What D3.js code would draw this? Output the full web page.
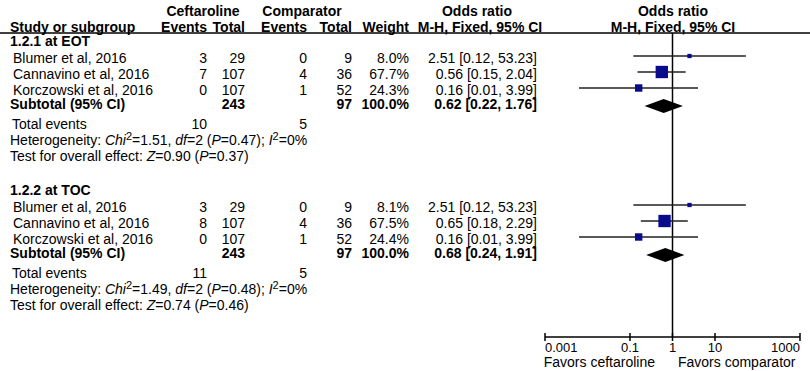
<!DOCTYPE html>
<html>
<head>
<meta charset="utf-8">
<script src="https://cdn.jsdelivr.net/npm/d3@7"></script>
<style>
  body { margin: 0; background: #fff; }
  svg text { font-family: "Liberation Sans", Arial, sans-serif; fill: #000; }
</style>
</head>
<body>
<div id="chart"></div>
<script>
(function () {
    // data
    const studies = ["Blumer et al, 2016", "Cannavino et al, 2016", "Korczowski et al, 2016"];

    const eotCeftEvents = [3, 7, 0];
    const eotCeftTotal = [29, 107, 107];
    const eotCompEvents = [0, 4, 1];
    const eotCompTotal = [9, 36, 52];
    const eotWeight = [8.0, 67.7, 24.3];
    const eotOR = [2.51, 0.56, 0.16];
    const eotLow = [0.12, 0.15, 0.0063];
    const eotHigh = [53.23, 2.04, 3.99];

    const tocCeftEvents = [3, 8, 0];
    const tocCeftTotal = [29, 107, 107];
    const tocCompEvents = [0, 4, 1];
    const tocCompTotal = [9, 36, 52];
    const tocWeight = [8.1, 67.5, 24.4];
    const tocOR = [2.51, 0.65, 0.16];
    const tocLow = [0.12, 0.18, 0.0063];
    const tocHigh = [53.23, 2.29, 3.99];

    const subgroupNames = ["1.2.1 at EOT", "1.2.2 at TOC"];
    const subCeftTotal = [243, 243];
    const subCompTotal = [97, 97];
    const subCeftEvents = [10, 11];
    const subCompEvents = [5, 5];
    const subOR = [0.62, 0.68];
    const subLow = [0.22, 0.24];
    const subHigh = [1.76, 1.91];
    const hetChi = ["1.51", "1.49"];
    const hetDf = ["2", "2"];
    const hetP = ["0.47", "0.48"];
    const hetI = ["0", "0"];
    const zVal = ["0.90", "0.74"];
    const zP = ["0.37", "0.46"];

    const axisTicks = [0.001, 0.1, 1, 10, 1000];
    const axisTickLabels = ["0.001", "0.1", "1", "10", "1000"];

    const groups = [
        { ce: eotCeftEvents, ct: eotCeftTotal, pe: eotCompEvents, pt: eotCompTotal, w: eotWeight, or: eotOR, lo: eotLow, hi: eotHigh },
        { ce: tocCeftEvents, ct: tocCeftTotal, pe: tocCompEvents, pt: tocCompTotal, w: tocWeight, or: tocOR, lo: tocLow, hi: tocHigh }
    ];

    // layout
    const W = 810, H = 371;
    const fs = 14;
    const colCeftEv = 207, colCeftTot = 245, colCompEv = 307, colCompTot = 352, colWeight = 409, colOR = 537;
    const plotCenter = 673;
    const groupTop = [41, 190];
    const rowStep = 16;
    const axisY = 337;
    const headerLineY = 33;

    const x = d3.scaleLog().domain([0.001, 1000]).range([545, 800]);
    const boxSize = d3.scaleSqrt().domain([0, 100]).range([0, 15]);

    const svg = d3.select("#chart").append("svg")
        .attr("width", W).attr("height", H);

    function txt(xp, yc, s, anchor, bold) {
        return svg.append("text")
            .attr("x", xp).attr("y", yc + 5)
            .attr("text-anchor", anchor || "start")
            .style("font-size", fs + "px")
            .style("font-weight", bold ? "bold" : "normal")
            .text(s);
    }
    const fmtCI = (o, l, h) => `${o.toFixed(2)} [${l.toFixed(2)}, ${h.toFixed(2)}]`;

    // headers
    txt(203, 11, "Ceftaroline", "middle", true);
    txt(302, 11, "Comparator", "middle", true);
    txt(477, 11, "Odds ratio", "middle", true);
    txt(plotCenter, 11, "Odds ratio", "middle", true);
    txt(10, 27, "Study or subgroup", "start", true);
    txt(colCeftEv, 27, "Events", "end", true);
    txt(colCeftTot, 27, "Total", "end", true);
    txt(colCompEv, 27, "Events", "end", true);
    txt(colCompTot, 27, "Total", "end", true);
    txt(colWeight, 27, "Weight", "end", true);
    txt(480, 27, "M-H, Fixed, 95% CI", "middle", true);
    txt(plotCenter, 27, "M-H, Fixed, 95% CI", "middle", true);

    svg.append("line")
        .attr("x1", 0).attr("x2", W)
        .attr("y1", headerLineY).attr("y2", headerLineY)
        .attr("stroke", "#000").attr("stroke-width", 1.5);

    // null line
    svg.append("line")
        .attr("x1", x(1)).attr("x2", x(1))
        .attr("y1", headerLineY).attr("y2", axisY)
        .attr("stroke", "#000").attr("stroke-width", 1.5);

    groups.forEach((g, gi) => {
        const y0 = groupTop[gi];
        txt(10, y0, subgroupNames[gi], "start", true);

        studies.forEach((s, i) => {
            const yc = y0 + rowStep * (i + 1) + 1;
            txt(13, yc, s);
            txt(colCeftEv, yc, g.ce[i], "end");
            txt(colCeftTot, yc, g.ct[i], "end");
            txt(colCompEv, yc, g.pe[i], "end");
            txt(colCompTot, yc, g.pt[i], "end");
            txt(colWeight, yc, g.w[i].toFixed(1) + "%", "end");
            txt(colOR, yc, fmtCI(g.or[i], g.lo[i], g.hi[i]), "end");

            const ym = yc - 2;
            svg.append("line")
                .attr("x1", x(g.lo[i])).attr("x2", x(g.hi[i]))
                .attr("y1", ym).attr("y2", ym)
                .attr("stroke", "#222").attr("stroke-width", 1.5);
            const b = boxSize(g.w[i]);
            svg.append("rect")
                .attr("x", x(g.or[i]) - b / 2).attr("y", ym - b / 2)
                .attr("width", b).attr("height", b)
                .attr("fill", "#0a0a8c");
        });

        const ys = y0 + rowStep * 4 - 1;
        txt(10, ys, "Subtotal (95% CI)", "start", true);
        txt(colCeftTot, ys, subCeftTotal[gi], "end", true);
        txt(colCompTot, ys, subCompTotal[gi], "end", true);
        txt(colWeight, ys, "100.0%", "end", true);
        txt(colOR, ys, fmtCI(subOR[gi], subLow[gi], subHigh[gi]), "end", true);

        const yd = ys + 2;
        const dh = 7;
        svg.append("path")
            .attr("d", `M${x(subLow[gi])},${yd} L${x(subOR[gi])},${yd - dh} L${x(subHigh[gi])},${yd} L${x(subOR[gi])},${yd + dh} Z`)
            .attr("fill", "#000");

        const yt = ys + 20;
        txt(12, yt, "Total events");
        txt(colCeftEv, yt, subCeftEvents[gi], "end");
        txt(colCompEv, yt, subCompEvents[gi], "end");

        const yh = yt + 16;
        const het = svg.append("text")
            .attr("x", 10).attr("y", yh + 5)
            .style("font-size", fs + "px");
        het.append("tspan").text("Heterogeneity: ");
        het.append("tspan").style("font-style", "italic").text("Chi");
        het.append("tspan").attr("dy", -5).style("font-size", "11px").text("2");
        het.append("tspan").attr("dy", 5).text(`=${hetChi[gi]}, `);
        het.append("tspan").style("font-style", "italic").text("df");
        het.append("tspan").text(`=${hetDf[gi]} (`);
        het.append("tspan").style("font-style", "italic").text("P");
        het.append("tspan").text(`=${hetP[gi]}); `);
        het.append("tspan").style("font-style", "italic").text("I");
        het.append("tspan").attr("dy", -5).style("font-size", "11px").text("2");
        het.append("tspan").attr("dy", 5).text(`=${hetI[gi]}%`);

        const yz = yh + 16;
        const z = svg.append("text")
            .attr("x", 10).attr("y", yz + 5)
            .style("font-size", fs + "px");
        z.append("tspan").text("Test for overall effect: ");
        z.append("tspan").style("font-style", "italic").text("Z");
        z.append("tspan").text(`=${zVal[gi]} (`);
        z.append("tspan").style("font-style", "italic").text("P");
        z.append("tspan").text(`=${zP[gi]})`);
    });

    // axis
    const axisG = svg.append("g");
    axisG.append("line")
        .attr("x1", x.range()[0]).attr("x2", x.range()[1])
        .attr("y1", axisY).attr("y2", axisY)
        .attr("stroke", "#000").attr("stroke-width", 1.5);
    axisTicks.forEach((t, i) => {
        axisG.append("line")
            .attr("x1", x(t)).attr("x2", x(t))
            .attr("y1", axisY - 4).attr("y2", axisY + 4)
            .attr("stroke", "#000").attr("stroke-width", 1.5);
        const anchor = i === 0 ? "start" : (i === axisTicks.length - 1 ? "end" : "middle");
        axisG.append("text")
            .attr("x", x(t)).attr("y", axisY + 15)
            .attr("text-anchor", anchor)
            .style("font-size", "13px")
            .text(axisTickLabels[i]);
    });
    txt(655, 362, "Favors ceftaroline", "end");
    txt(678, 362, "Favors comparator", "start");
})();
</script>
</body>
</html>
